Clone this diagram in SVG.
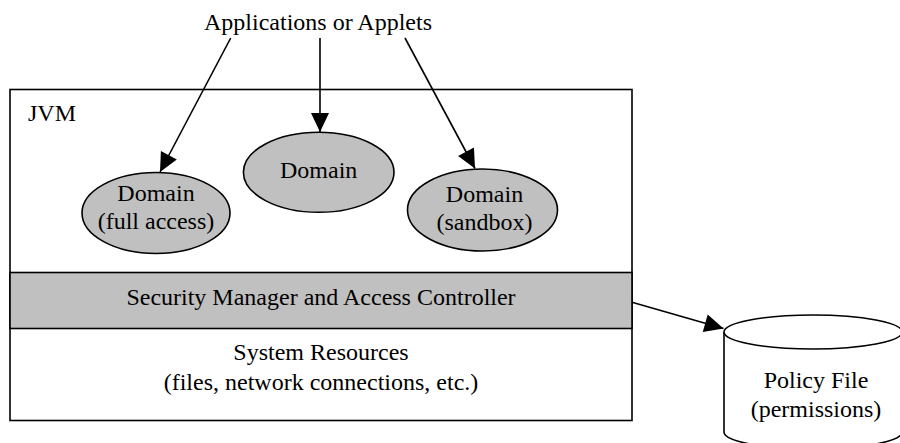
<svg xmlns="http://www.w3.org/2000/svg" width="900" height="443" viewBox="0 0 900 443">
  <style>
    text { font-family: "Liberation Serif", "Times New Roman", serif; font-size: 24px; fill: #000; }
    .mid { text-anchor: middle; }
    .box { fill: #fff; stroke: #000; stroke-width: 1.6; }
    .band { fill: #c0c0c0; stroke: #000; stroke-width: 1.6; }
    .dom { fill: #c0c0c0; stroke: #000; stroke-width: 1.6; }
    .edge { fill: none; stroke: #000; stroke-width: 1.6; marker-end: url(#arrow); }
    .db { fill: #fff; stroke: #000; stroke-width: 1.6; }
  </style>
  <defs>
    <marker id="arrow" markerUnits="userSpaceOnUse" markerWidth="20" markerHeight="18" refX="19" refY="9" orient="auto" overflow="visible">
      <path d="M0,0 L19,9 L0,18 z" fill="#000"/>
    </marker>
  </defs>

  <!-- caller label -->
  <g id="apps">
    <text class="mid" x="318" y="30">Applications or Applets</text>
  </g>

  <!-- virtual machine container -->
  <g id="jvm">
    <rect class="box" x="10" y="89.5" width="622" height="331"/>
    <text x="28" y="121">JVM</text>
  </g>

  <g id="security">
    <rect class="band" x="10" y="272.5" width="622" height="56"/>
    <text class="mid" x="321" y="305">Security Manager and Access Controller</text>
  </g>

  <g id="resources">
    <text class="mid" x="321" y="360">System Resources</text>
    <text class="mid" x="321" y="390">(files, network connections, etc.)</text>
  </g>

  <g id="domain-full">
    <ellipse class="dom" cx="156" cy="213" rx="74" ry="40.5"/>
    <text class="mid" x="156" y="201">Domain</text>
    <text class="mid" x="156" y="229">(full access)</text>
  </g>

  <g id="domain">
    <ellipse class="dom" cx="318.7" cy="172.3" rx="75.3" ry="40"/>
    <text class="mid" x="318.7" y="177.5">Domain</text>
  </g>

  <g id="domain-sandbox">
    <ellipse class="dom" cx="482.5" cy="210" rx="75" ry="41"/>
    <text class="mid" x="484.5" y="201.5">Domain</text>
    <text class="mid" x="484.5" y="229.5">(sandbox)</text>
  </g>

  <!-- policy store -->
  <g id="policy">
    <path class="db" d="M724,332 L724,432 A89,17 0 0 0 902,432 L902,332"/>
    <ellipse class="db" cx="813" cy="332" rx="89" ry="17"/>
    <text class="mid" x="816" y="388">Policy File</text>
    <text class="mid" x="816" y="416.5">(permissions)</text>
  </g>

  <g id="connectors">
    <line class="edge" x1="230.7" y1="38" x2="160" y2="172"/>
    <line class="edge" x1="320" y1="38" x2="320" y2="132"/>
    <line class="edge" x1="405" y1="38" x2="475" y2="168.5"/>
    <line class="edge" x1="632" y1="302.3" x2="723.5" y2="328.5"/>
  </g>
</svg>
